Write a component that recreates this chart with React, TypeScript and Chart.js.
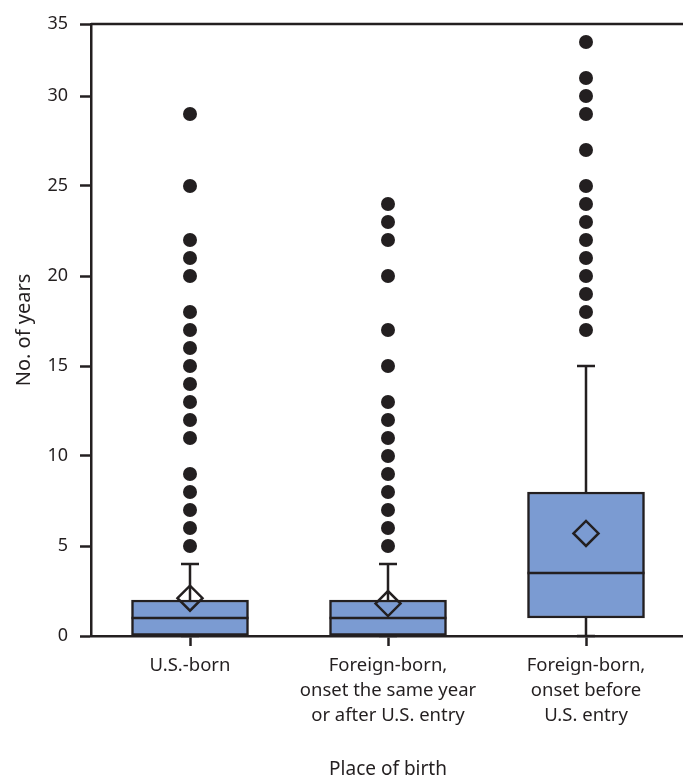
import React, { useEffect, useRef } from 'react';
import { Chart, registerables } from 'chart.js';

Chart.register(...registerables);

const categories: string[][] = [
  ['U.S.-born'],
  ['Foreign-born,', 'onset the same year', 'or after U.S. entry'],
  ['Foreign-born,', 'onset before', 'U.S. entry'],
];
const q1 = [0, 0, 1];
const medians = [1, 1, 3.5];
const q3 = [2, 2, 8];
const whiskerLow = [0, 0, 0];
const whiskerHigh = [4, 4, 15];
const means = [2.1, 1.8, 5.7];
const outliersUSBorn = [5, 6, 7, 8, 9, 11, 12, 13, 14, 15, 16, 17, 18, 20, 21, 22, 25, 29];
const outliersForeignAfter = [5, 6, 7, 8, 9, 10, 11, 12, 13, 15, 17, 20, 22, 23, 24];
const outliersForeignBefore = [17, 18, 19, 20, 21, 22, 23, 24, 25, 27, 29, 30, 31, 33];
const yTickValues = [0, 5, 10, 15, 20, 25, 30, 34];
const yTickLabels = ['0', '5', '10', '15', '20', '25', '30', '35'];

const DARK = '#231f20';
const BOX = '#7b9bd2';
const FONT = "'Noto Sans', sans-serif";
const LW = 2.5;

const boxPlugin = {
  id: 'boxWhiskers',
  afterDatasetDraw(chart: any, args: any) {
    if (args.index !== 0) return;
    const y = chart.scales.y;
    const ctx = chart.ctx;
    const meta = args.meta;
    ctx.save();
    ctx.strokeStyle = DARK;
    ctx.lineWidth = LW;
    meta.data.forEach((bar: any, i: number) => {
      const cx = bar.x;
      const half = bar.width / 2;
      const capHalf = 9;
      const pm = y.getPixelForValue(medians[i]);
      ctx.beginPath();
      ctx.moveTo(cx - half, pm);
      ctx.lineTo(cx + half, pm);
      ctx.stroke();
      const pq3 = y.getPixelForValue(q3[i]);
      const phi = y.getPixelForValue(whiskerHigh[i]);
      ctx.beginPath();
      ctx.moveTo(cx, pq3);
      ctx.lineTo(cx, phi);
      ctx.moveTo(cx - capHalf, phi);
      ctx.lineTo(cx + capHalf, phi);
      ctx.stroke();
      const pq1 = y.getPixelForValue(q1[i]);
      const plo = y.getPixelForValue(whiskerLow[i]);
      ctx.beginPath();
      ctx.moveTo(cx, pq1);
      ctx.lineTo(cx, plo);
      ctx.moveTo(cx - capHalf, plo);
      ctx.lineTo(cx + capHalf, plo);
      ctx.stroke();
    });
    ctx.restore();
  },
  afterDraw(chart: any) {
    const { ctx, chartArea } = chart;
    ctx.save();
    ctx.strokeStyle = DARK;
    ctx.lineWidth = LW;
    ctx.beginPath();
    ctx.moveTo(chartArea.left, chartArea.top);
    ctx.lineTo(chartArea.right + 20, chartArea.top);
    ctx.stroke();
    ctx.restore();
  },
};

export default function App() {
  const ref = useRef<HTMLCanvasElement>(null);
  useEffect(() => {
    if (!ref.current) return;
    const toPoints = (vals: number[], i: number) => vals.map((v) => ({ x: i, y: v }));
    const outlierPoints = [
      ...toPoints(outliersUSBorn, 0),
      ...toPoints(outliersForeignAfter, 1),
      ...toPoints(outliersForeignBefore, 2),
    ];
    const chart = new Chart(ref.current, {
      type: 'bar',
      data: {
        datasets: [
          {
            type: 'bar',
            data: q1.map((v, i) => ({ x: i, y: [v, q3[i]] })) as any,
            backgroundColor: BOX,
            borderColor: DARK,
            borderWidth: LW,
            borderSkipped: false,
            barThickness: 117,
            order: 2,
          } as any,
          {
            type: 'scatter',
            data: outlierPoints,
            pointRadius: 7,
            pointHoverRadius: 7,
            backgroundColor: DARK,
            borderWidth: 0,
            order: 1,
          } as any,
          {
            type: 'scatter',
            data: means.map((v, i) => ({ x: i, y: v })),
            pointStyle: 'rectRot',
            pointRadius: 12.5,
            pointHoverRadius: 12.5,
            backgroundColor: 'rgba(0,0,0,0)',
            borderColor: DARK,
            borderWidth: LW,
            order: 0,
          } as any,
        ],
      },
      options: {
        responsive: false,
        animation: false,
        layout: { padding: { top: 24, right: 7, left: 0, bottom: 0 } },
        plugins: { legend: { display: false }, tooltip: { enabled: false } },
        scales: {
          x: {
            type: 'linear',
            min: -0.5,
            max: 2.5,
            offset: false,
            afterBuildTicks: (s: any) => {
              s.ticks = categories.map((_, i) => ({ value: i }));
            },
            afterFit: (s: any) => {
              s.height = 142;
            },
            grid: { offset: false, drawOnChartArea: false, drawTicks: true, tickLength: 10, tickWidth: LW, tickColor: DARK },
            border: { display: true, color: DARK, width: LW },
            ticks: {
              padding: 7,
              maxRotation: 0,
              minRotation: 0,
              autoSkip: false,
              color: DARK,
              font: { family: FONT, size: 18.5, lineHeight: 1.36 },
              callback: (v: any) => categories[Math.round(Number(v))],
            },
            title: {
              display: true,
              text: 'Place of birth',
              color: DARK,
              font: { family: FONT, size: 19 },
              padding: { top: 0, bottom: -3 },
            },
          },
          y: {
            type: 'linear',
            min: 0,
            max: 34,
            afterBuildTicks: (s: any) => {
              s.ticks = yTickValues.map((v) => ({ value: v }));
            },
            afterFit: (s: any) => {
              s.width = 91;
            },
            grid: { drawOnChartArea: false, drawTicks: true, tickLength: 11, tickWidth: LW, tickColor: DARK },
            border: { display: true, color: DARK, width: LW },
            ticks: {
              padding: 12,
              color: DARK,
              font: { family: FONT, size: 18 },
              callback: (_v: any, i: number) => yTickLabels[i],
            },
            title: {
              display: true,
              text: 'No. of years',
              color: DARK,
              font: { family: FONT, size: 20 },
              padding: { top: 12, bottom: 0 },
            },
          },
        },
      } as any,
      plugins: [boxPlugin],
    });
    return () => chart.destroy();
  }, []);
  return (
    <div style={{ position: 'fixed', left: 0, top: 0, width: 683, height: 778, overflow: 'hidden', background: '#fff' }}>
      <canvas ref={ref} width={700} height={778} style={{ width: 700, height: 778, display: 'block' }} />
    </div>
  );
}
